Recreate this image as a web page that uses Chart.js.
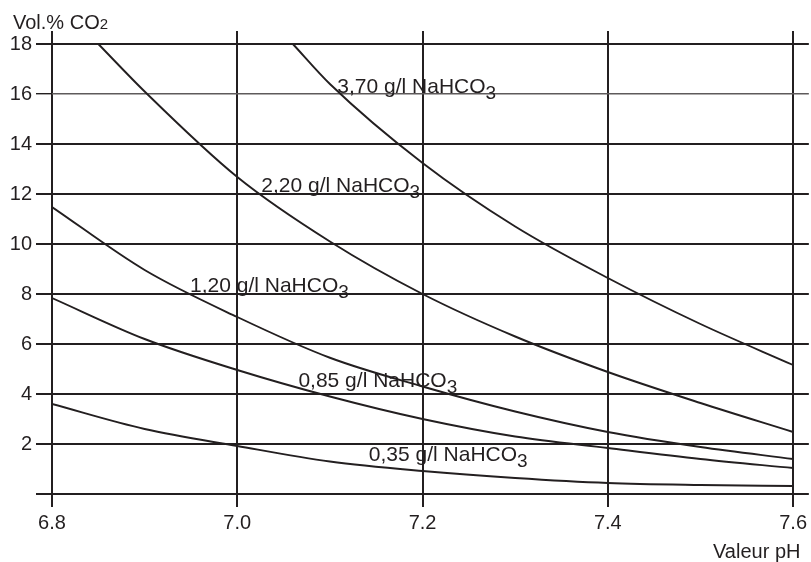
<!DOCTYPE html>
<html>
<head>
<meta charset="utf-8">
<script src="https://cdn.jsdelivr.net/npm/chart.js@4/dist/chart.umd.min.js"></script>
<style>
  html, body { margin: 0; padding: 0; background: #fff; }
  #wrap { width: 811px; height: 562px; }
</style>
</head>
<body>
<div id="wrap"><canvas id="chart" width="811" height="562"></canvas></div>
<script>
// values (pH -> Vol.% CO2)
const ph035 = [6.8, 6.9, 7.0, 7.1, 7.2, 7.3, 7.4, 7.5, 7.6];
const co2035 = [3.6, 2.6, 1.92, 1.3, 0.92, 0.64, 0.44, 0.36, 0.32];

const ph085 = [6.8, 6.9, 7.0, 7.1, 7.2, 7.3, 7.4, 7.5, 7.6];
const co2085 = [7.84, 6.2, 4.96, 3.9, 3.0, 2.3, 1.84, 1.4, 1.04];

const ph120 = [6.8, 6.9, 7.0, 7.1, 7.2, 7.3, 7.4, 7.5, 7.6];
const co2120 = [11.48, 8.96, 7.08, 5.45, 4.3, 3.3, 2.48, 1.88, 1.4];

const ph220 = [6.85, 6.9, 7.0, 7.1, 7.2, 7.3, 7.4, 7.5, 7.6];
const co2220 = [18, 16.1, 12.68, 10.1, 8.0, 6.3, 4.88, 3.64, 2.48];

const ph370 = [7.06, 7.1, 7.2, 7.3, 7.4, 7.5, 7.6];
const co2370 = [18, 16.4, 13.24, 10.7, 8.64, 6.8, 5.16];

const seriesNames = ['0,35', '0,85', '1,20', '2,20', '3,70'];
// where each curve label sits (pH, Vol.%) - left edge / baseline
const labelPh = [7.142, 7.066, 6.949, 7.026, 7.108];
const labelCo2 = [1.32, 4.28, 8.08, 12.08, 16.04];

const xTicks = [6.8, 7.0, 7.2, 7.4, 7.6];
const yTicks = [0, 2, 4, 6, 8, 10, 12, 14, 16, 18];

const ink = '#231f20';
const fontFamily = '"Liberation Sans", Arial, sans-serif';

const toPoints = (xs, ys) => xs.map((x, i) => ({ x: x, y: ys[i] }));
const allPh = [ph035, ph085, ph120, ph220, ph370];
const allCo2 = [co2035, co2085, co2120, co2220, co2370];

const datasets = allPh.map((xs, i) => ({
    label: seriesNames[i],
    data: toPoints(xs, allCo2[i]),
    borderColor: ink,
    borderWidth: 1.9,
    pointRadius: 0,
    fill: false,
    cubicInterpolationMode: 'monotone'
}));

const textPlugin = {
    id: 'texts',
    afterDatasetsDraw(chart) {
        const { ctx, scales: { x, y } } = chart;
        ctx.save();
        ctx.fillStyle = ink;
        ctx.textBaseline = 'alphabetic';
        ctx.textAlign = 'left';

        // curve labels with subscript 3
        seriesNames.forEach((name, i) => {
            const px = x.getPixelForValue(labelPh[i]);
            const py = y.getPixelForValue(labelCo2[i]);
            const main = name + ' g/l NaHCO';
            ctx.font = '21px ' + fontFamily;
            ctx.fillText(main, px, py);
            const w = ctx.measureText(main).width;
            ctx.font = '19px ' + fontFamily;
            ctx.fillText('3', px + w, py + 6);
        });

        // axis titles
        ctx.font = '20px ' + fontFamily;
        ctx.fillText('Vol.% CO', 13, 29);
        const tw = ctx.measureText('Vol.% CO').width;
        ctx.font = '15px ' + fontFamily;
        ctx.fillText('2', 13 + tw, 29);

        ctx.font = '20px ' + fontFamily;
        ctx.fillText('Valeur pH', 713, 558);
        ctx.restore();
    }
};

const ctx = document.getElementById('chart').getContext('2d');
new Chart(ctx, {
    type: 'line',
    data: { datasets: datasets },
    options: {
        responsive: false,
        animation: false,
        layout: { padding: { top: 31, right: 0, left: 0, bottom: 0 } },
        plugins: {
            legend: { display: false },
            tooltip: { enabled: false }
        },
        scales: {
            x: {
                type: 'linear',
                min: 6.8,
                max: 7.617,
                afterBuildTicks(scale) { scale.ticks = xTicks.map(v => ({ value: v })); },
                afterFit(scale) { scale.height = 68; },
                ticks: {
                    color: ink,
                    padding: 4,
                    maxRotation: 0,
                    font: { family: fontFamily, size: 20 },
                    callback: v => Number(v).toFixed(1)
                },
                grid: { color: ink, lineWidth: 2, tickLength: 13, tickColor: ink },
                border: { display: false }
            },
            y: {
                type: 'linear',
                min: 0,
                max: 18.52,
                afterBuildTicks(scale) { scale.ticks = yTicks.map(v => ({ value: v })); },
                afterFit(scale) { scale.width = 52; },
                ticks: {
                    color: ink,
                    padding: 4,
                    font: { family: fontFamily, size: 20 },
                    callback: v => (v === 0 ? '' : String(v))
                },
                grid: {
                    color: c => (c.tick && c.tick.value === 16 ? '#5e5a5b' : ink),
                    lineWidth: c => (c.tick && c.tick.value === 16 ? 1.4 : 2),
                    tickLength: 16,
                    tickColor: ink
                },
                border: { display: false }
            }
        }
    },
    plugins: [textPlugin]
});
</script>
</body>
</html>
